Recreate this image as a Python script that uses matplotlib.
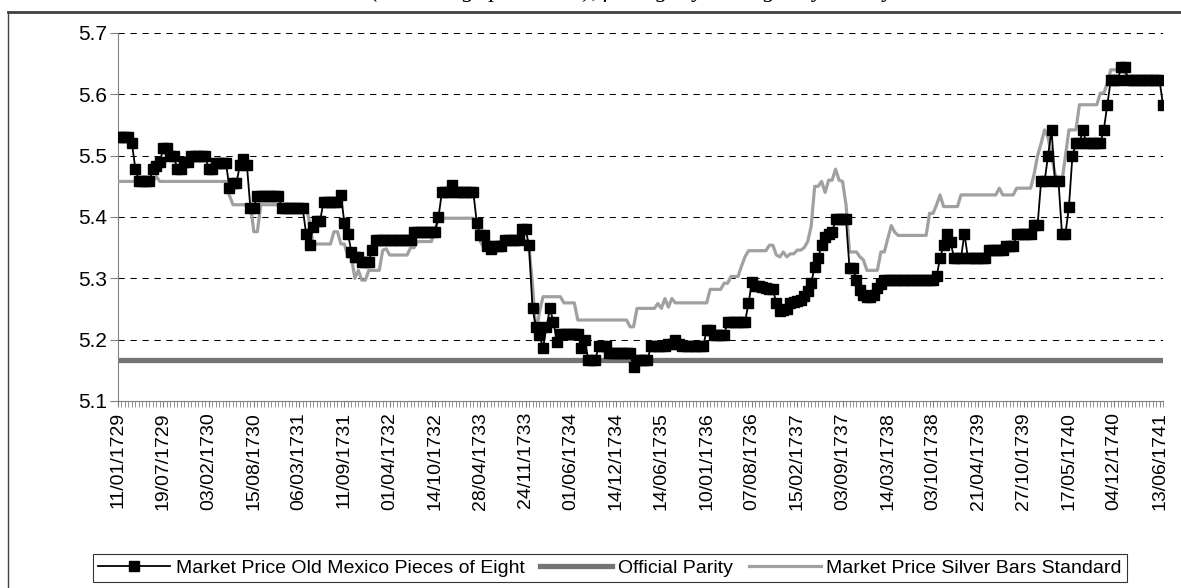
import matplotlib
matplotlib.use('Agg')
import matplotlib.pyplot as plt
from matplotlib.lines import Line2D

plt.rcParams['font.family'] = ['Liberation Sans', 'DejaVu Sans']

# Market price, old Mexico pieces of eight (one value per fortnight)
mexico = [
    5.53, 5.53, 5.53, 5.53, 5.52, 5.478, 5.458, 5.458, 5.458, 5.458,
    5.478, 5.483, 5.49, 5.512, 5.512, 5.50, 5.50, 5.478, 5.478, 5.49,
    5.49, 5.50, 5.50, 5.50, 5.50, 5.50, 5.478, 5.478, 5.488, 5.488,
    5.488, 5.488, 5.447, 5.455, 5.455, 5.485, 5.494, 5.485, 5.415, 5.415,
    5.435, 5.435, 5.435, 5.435, 5.435, 5.435, 5.435, 5.415, 5.415, 5.415,
    5.415, 5.415, 5.415, 5.415, 5.373, 5.354, 5.384, 5.393, 5.393, 5.425,
    5.425, 5.425, 5.425, 5.425, 5.436, 5.39, 5.373, 5.343, 5.335, 5.335,
    5.327, 5.327, 5.327, 5.346, 5.362, 5.362, 5.362, 5.362, 5.362, 5.362,
    5.362, 5.362, 5.362, 5.362, 5.362, 5.376, 5.376, 5.376, 5.376, 5.376,
    5.376, 5.376, 5.40, 5.441, 5.441, 5.441, 5.452, 5.441, 5.441, 5.441,
    5.441, 5.441, 5.441, 5.391, 5.371, 5.371, 5.352, 5.348, 5.352, 5.352,
    5.352, 5.362, 5.362, 5.362, 5.362, 5.362, 5.38, 5.38, 5.354, 5.251,
    5.221, 5.208, 5.186, 5.22, 5.251, 5.229, 5.197, 5.21, 5.21, 5.21,
    5.21, 5.21, 5.21, 5.186, 5.20, 5.167, 5.167, 5.167, 5.189, 5.189,
    5.189, 5.178, 5.178, 5.178, 5.178, 5.178, 5.178, 5.178, 5.156, 5.167,
    5.167, 5.167, 5.167, 5.189, 5.189, 5.189, 5.189, 5.189, 5.193, 5.193,
    5.199, 5.193, 5.189, 5.189, 5.189, 5.189, 5.189, 5.189, 5.189, 5.216,
    5.216, 5.208, 5.208, 5.208, 5.208, 5.229, 5.229, 5.229, 5.229, 5.229,
    5.229, 5.259, 5.294, 5.288, 5.288, 5.286, 5.285, 5.283, 5.283, 5.259,
    5.246, 5.248, 5.25, 5.259, 5.262, 5.263, 5.265, 5.272, 5.28, 5.292,
    5.319, 5.333, 5.355, 5.368, 5.373, 5.375, 5.396, 5.396, 5.396, 5.396,
    5.317, 5.317, 5.297, 5.281, 5.273, 5.27, 5.27, 5.273, 5.285, 5.29,
    5.297, 5.297, 5.297, 5.297, 5.297, 5.297, 5.297, 5.297, 5.297, 5.297,
    5.297, 5.297, 5.297, 5.297, 5.297, 5.303, 5.333, 5.354, 5.373, 5.36,
    5.333, 5.333, 5.333, 5.373, 5.333, 5.333, 5.333, 5.333, 5.333, 5.333,
    5.346, 5.346, 5.346, 5.346, 5.346, 5.352, 5.352, 5.352, 5.373, 5.373,
    5.373, 5.373, 5.373, 5.387, 5.387, 5.458, 5.458, 5.50, 5.542, 5.458,
    5.458, 5.373, 5.373, 5.417, 5.50, 5.52, 5.52, 5.542, 5.52, 5.52,
    5.52, 5.52, 5.52, 5.542, 5.583, 5.623, 5.623, 5.623, 5.645, 5.645,
    5.623, 5.623, 5.623, 5.623, 5.623, 5.623, 5.623, 5.623, 5.623, 5.623,
    5.583,
]

# Market price, silver bars standard
silver = [
    5.458, 5.458, 5.458, 5.458, 5.458, 5.458, 5.458, 5.458, 5.458, 5.458,
    5.458, 5.466, 5.458, 5.458, 5.458, 5.458, 5.458, 5.458, 5.458, 5.458,
    5.458, 5.458, 5.458, 5.458, 5.458, 5.458, 5.458, 5.458, 5.458, 5.458,
    5.458, 5.458, 5.435, 5.42, 5.42, 5.42, 5.42, 5.42, 5.42, 5.376,
    5.376, 5.42, 5.42, 5.42, 5.42, 5.42, 5.42, 5.42, 5.42, 5.42,
    5.42, 5.42, 5.42, 5.42, 5.42, 5.39, 5.356, 5.356, 5.356, 5.356,
    5.356, 5.356, 5.376, 5.376, 5.356, 5.356, 5.335, 5.335, 5.30, 5.313,
    5.297, 5.297, 5.313, 5.313, 5.313, 5.313, 5.346, 5.348, 5.338, 5.338,
    5.338, 5.338, 5.338, 5.338, 5.35, 5.35, 5.36, 5.36, 5.36, 5.36,
    5.36, 5.38, 5.398, 5.398, 5.398, 5.398, 5.398, 5.398, 5.398, 5.398,
    5.398, 5.398, 5.398, 5.38, 5.36, 5.35, 5.35, 5.35, 5.35, 5.35,
    5.362, 5.362, 5.362, 5.362, 5.362, 5.362, 5.362, 5.362, 5.35, 5.29,
    5.21, 5.245, 5.27, 5.27, 5.27, 5.27, 5.27, 5.27, 5.26, 5.26,
    5.26, 5.26, 5.232, 5.232, 5.232, 5.232, 5.232, 5.232, 5.232, 5.232,
    5.232, 5.232, 5.232, 5.232, 5.232, 5.232, 5.232, 5.221, 5.221, 5.251,
    5.251, 5.251, 5.251, 5.251, 5.251, 5.259, 5.251, 5.267, 5.253, 5.267,
    5.26, 5.26, 5.26, 5.26, 5.26, 5.26, 5.26, 5.26, 5.26, 5.26,
    5.282, 5.282, 5.282, 5.282, 5.292, 5.292, 5.303, 5.303, 5.303, 5.32,
    5.335, 5.345, 5.345, 5.345, 5.345, 5.345, 5.345, 5.354, 5.354, 5.338,
    5.335, 5.343, 5.335, 5.34, 5.34, 5.346, 5.346, 5.35, 5.36, 5.385,
    5.45, 5.45, 5.458, 5.44, 5.46, 5.46, 5.478, 5.46, 5.458, 5.42,
    5.343, 5.343, 5.343, 5.335, 5.33, 5.313, 5.313, 5.313, 5.313, 5.343,
    5.343, 5.365, 5.386, 5.375, 5.37, 5.37, 5.37, 5.37, 5.37, 5.37,
    5.37, 5.37, 5.37, 5.406, 5.406, 5.42, 5.436, 5.417, 5.417, 5.417,
    5.417, 5.417, 5.436, 5.436, 5.436, 5.436, 5.436, 5.436, 5.436, 5.436,
    5.436, 5.436, 5.436, 5.447, 5.436, 5.436, 5.436, 5.436, 5.447, 5.447,
    5.447, 5.447, 5.447, 5.47, 5.50, 5.52, 5.542, 5.53, 5.50, 5.47,
    5.458, 5.458, 5.50, 5.542, 5.542, 5.542, 5.583, 5.583, 5.583, 5.583,
    5.583, 5.583, 5.602, 5.602, 5.618, 5.64, 5.64, 5.64, 5.64, 5.64,
    5.623, 5.623, 5.623, 5.623, 5.623, 5.623, 5.623, 5.623, 5.623, 5.623,
    5.623,
]

parity_value = 5.1667
parity = [parity_value] * len(mexico)

date_labels = [
    "11/01/1729", "19/07/1729", "03/02/1730", "15/08/1730", "06/03/1731",
    "11/09/1731", "01/04/1732", "14/10/1732", "28/04/1733", "24/11/1733",
    "01/06/1734", "14/12/1734", "14/06/1735", "10/01/1736", "07/08/1736",
    "15/02/1737", "03/09/1737", "14/03/1738", "03/10/1738", "21/04/1739",
    "27/10/1739", "17/05/1740", "04/12/1740", "13/06/1741",
]
label_step = 13
y_ticks = [5.1, 5.2, 5.3, 5.4, 5.5, 5.6, 5.7]

W, H = 1181, 588
fig = plt.figure(figsize=(W / 100, H / 100), dpi=100)
ax = fig.add_axes([118 / W, 1 - 401 / H, (1163 - 118) / W, (401 - 33) / H])

x = list(range(len(mexico)))
l_silver, = ax.plot(x, silver, color='#a0a0a0', lw=2.3, zorder=3,
                    solid_joinstyle='round')
l_par, = ax.plot(x, parity, color='#747474', lw=3.8, zorder=2)
l_mex, = ax.plot(x, mexico, color='black', lw=1.3, marker='s', ms=7.3,
                 zorder=4)

ax.set_xlim(0, len(mexico) - 1)
ax.set_ylim(5.1, 5.7)
ax.set_yticks(y_ticks)
ax.set_yticklabels([f"{v:.1f}" for v in y_ticks], fontsize=15)
ax.set_xticks(range(0, len(mexico), label_step))
ax.set_xticklabels(date_labels, rotation=90, fontsize=14)
ax.set_xticks(x, minor=True)
ax.tick_params(axis='x', which='both', length=4, color='#808080', pad=4)
ax.tick_params(axis='y', length=6, color='#808080', pad=2)

ax.yaxis.grid(True, linestyle=(0, (6, 5.5)), color='black', lw=0.75)
ax.set_axisbelow(True)
for side in ('top', 'right'):
    ax.spines[side].set_visible(False)
for side in ('left', 'bottom'):
    ax.spines[side].set_color('#808080')

leg = fig.legend([l_mex, l_par, l_silver],
                 ['Market Price Old Mexico Pieces of Eight', 'Official Parity',
                  'Market Price Silver Bars Standard'],
                 loc='center', bbox_to_anchor=(610 / W, 1 - 568 / H), ncol=3,
                 fontsize=14, frameon=True, fancybox=False, handlelength=3.7,
                 columnspacing=0.8, handletextpad=0.3, borderpad=0.25)
leg.get_frame().set_edgecolor('black')
leg.get_frame().set_linewidth(0.8)

# chart frame
fig.add_artist(Line2D([8 / W, 1], [1 - 12 / H, 1 - 12 / H], color='#404040', lw=2))
fig.add_artist(Line2D([8 / W, 8 / W], [0, 1 - 12 / H], color='#404040', lw=1))

# title mostly cut off by the top of the image
fig.text(632 / W, 1 + 3 / H, "(in shillings per ounce), fortnightly averages by weekly",
         ha='center', va='baseline', fontsize=17, style='italic',
         family='Liberation Serif')

fig.savefig('out.png', dpi=100)
